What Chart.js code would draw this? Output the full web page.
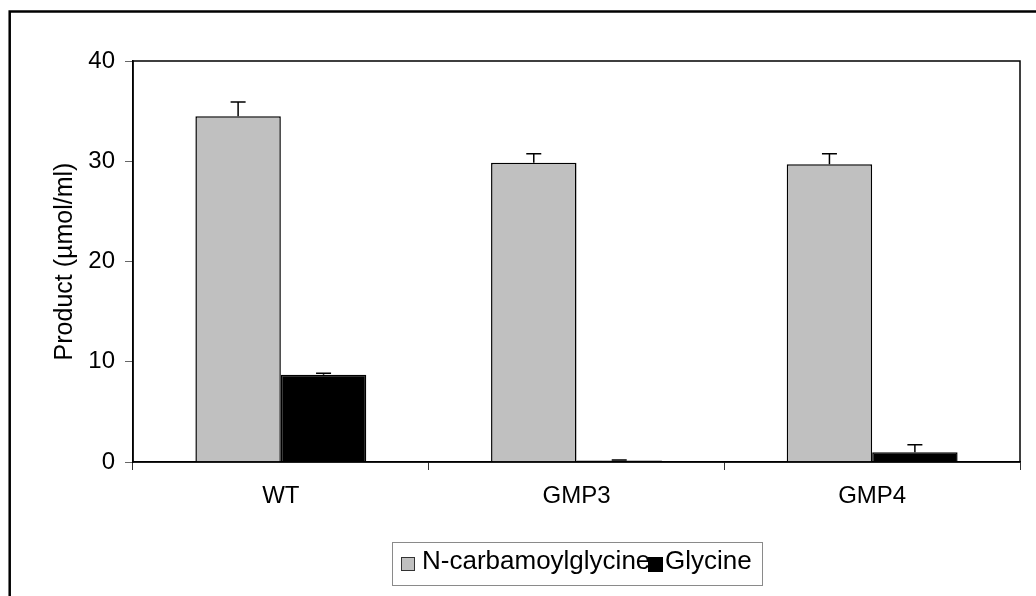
<!DOCTYPE html>
<html>
<head>
<meta charset="utf-8">
<script src="https://cdn.jsdelivr.net/npm/chart.js@4/dist/chart.umd.min.js"></script>
<style>
  html, body { margin: 0; padding: 0; background: #fff; }
  #wrap { width: 1036px; height: 596px; }
</style>
</head>
<body>
<div id="wrap"><canvas id="productChart" width="1036" height="596"></canvas></div>
<script>
// values
const strains = ['WT', 'GMP3', 'GMP4']
const carbamoylValues = [34.5, 29.85, 29.7]
const carbamoylErrors = [1.4, 0.9, 1.05]
const glycineValues = [8.7, 0.15, 0.97]
const glycineErrors = [0.15, 0.05, 0.75]
const yTicks = [0, 10, 20, 30, 40]

const FONT = 'Arial, "Liberation Sans", sans-serif'

// outer frame of the figure
const framePlugin = {
  id: 'frame',
  beforeDraw(chart) {
    const ctx = chart.ctx
    ctx.save()
    ctx.fillStyle = '#fff'
    ctx.fillRect(0, 0, chart.width, chart.height)
    ctx.strokeStyle = '#000'
    ctx.lineWidth = 2.5
    ctx.strokeRect(9.7, 11.5, chart.width + 20, chart.height + 20)
    ctx.restore()
  }
}

// box round the plot area (top and right sides too)
const plotBoxPlugin = {
  id: 'plotBox',
  afterDatasetsDraw(chart) {
    const { left, top, right, bottom } = chart.chartArea
    const ctx = chart.ctx
    ctx.save()
    ctx.strokeStyle = '#000'
    ctx.lineWidth = 1.5
    ctx.strokeRect(left, top, right - left, bottom - top)
    ctx.restore()
  }
}

// upward error bars with a cap
const errorBarPlugin = {
  id: 'errorBars',
  afterDatasetsDraw(chart) {
    const ctx = chart.ctx
    const y = chart.scales.y
    ctx.save()
    ctx.strokeStyle = '#000'
    ctx.lineWidth = 1.5
    chart.data.datasets.forEach((ds, i) => {
      const meta = chart.getDatasetMeta(i)
      meta.data.forEach((bar, j) => {
        const top = y.getPixelForValue(ds.data[j] + ds.errors[j])
        const base = bar.y
        ctx.beginPath()
        ctx.moveTo(bar.x, base)
        ctx.lineTo(bar.x, top)
        ctx.moveTo(bar.x - 7.5, top)
        ctx.lineTo(bar.x + 7.5, top)
        ctx.stroke()
      })
    })
    ctx.restore()
  }
}

// Excel-style legend in a grey box under the chart
const boxLegendPlugin = {
  id: 'boxLegend',
  afterDraw(chart) {
    const ctx = chart.ctx
    const ds = chart.data.datasets
    ctx.save()
    ctx.strokeStyle = '#8a8a8a'
    ctx.lineWidth = 1
    ctx.strokeRect(392.5, 542.5, 370, 43)
    ctx.font = '26px ' + FONT
    ctx.textBaseline = 'alphabetic'
    ctx.fillStyle = '#000'
    ctx.fillText(ds[0].label, 422, 569)
    ctx.fillText(ds[1].label, 665, 569)
    // swatches
    ctx.fillStyle = ds[0].backgroundColor
    ctx.fillRect(401, 557, 14, 14)
    ctx.strokeStyle = '#333'
    ctx.strokeRect(401.5, 557.5, 13, 13)
    ctx.fillStyle = ds[1].backgroundColor
    ctx.fillRect(648, 557, 15, 15)
    ctx.restore()
  }
}

const config = {
  type: 'bar',
  data: {
    labels: strains,
    datasets: [
      {
        label: 'N-carbamoylglycine',
        data: carbamoylValues,
        errors: carbamoylErrors,
        backgroundColor: '#c0c0c0',
        borderColor: '#000',
        borderWidth: 1.5
      },
      {
        label: 'Glycine',
        data: glycineValues,
        errors: glycineErrors,
        backgroundColor: '#000',
        borderColor: '#000',
        borderWidth: 1.5
      }
    ]
  },
  options: {
    responsive: false,
    animation: false,
    layout: {
      padding: { left: 0, top: 61, right: 16, bottom: 84 }
    },
    datasets: {
      bar: {
        barPercentage: 1.0,
        categoryPercentage: 0.578
      }
    },
    plugins: {
      legend: { display: false },
      tooltip: { enabled: false }
    },
    scales: {
      x: {
        afterFit: (scale) => { scale.height = 50 },
        border: { display: true, color: '#000', width: 1.5 },
        grid: {
          offset: true,
          drawOnChartArea: false,
          drawTicks: true,
          tickLength: 8,
          color: '#333',
          lineWidth: 1
        },
        ticks: {
          color: '#000',
          padding: 12,
          font: { family: FONT, size: 24 }
        }
      },
      y: {
        min: 0,
        max: 40,
        afterFit: (scale) => { scale.width = 133 },
        afterBuildTicks: (scale) => { scale.ticks = yTicks.map(v => ({ value: v })) },
        border: { display: true, color: '#000', width: 1.5 },
        grid: {
          drawOnChartArea: false,
          drawTicks: true,
          tickLength: 8,
          color: '#666',
          lineWidth: 1
        },
        ticks: {
          color: '#000',
          padding: 10,
          font: { family: FONT, size: 24 }
        },
        title: {
          display: true,
          text: 'Product (µmol/ml)',
          color: '#000',
          padding: { top: 50, bottom: 0 },
          font: { family: FONT, size: 25 }
        }
      }
    }
  },
  plugins: [framePlugin, plotBoxPlugin, errorBarPlugin, boxLegendPlugin]
}

new Chart(document.getElementById('productChart'), config)
</script>
</body>
</html>
